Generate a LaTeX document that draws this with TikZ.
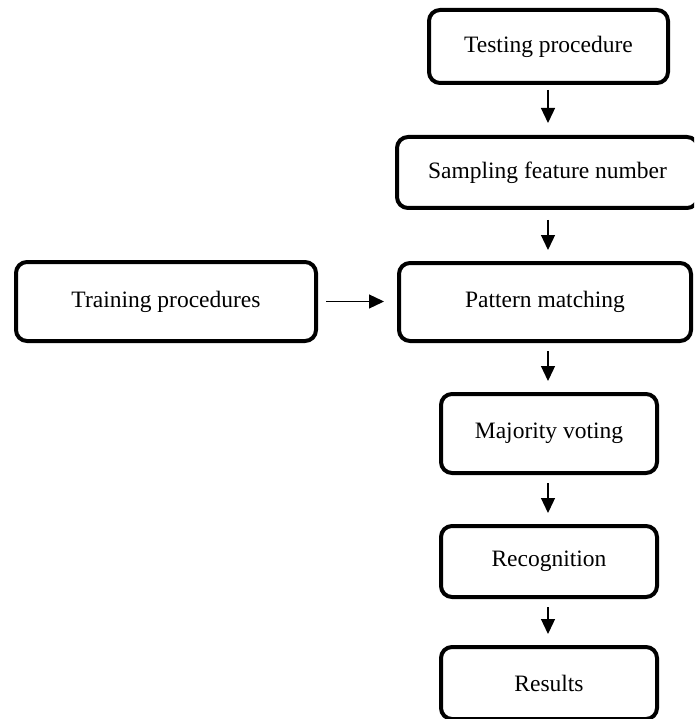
\documentclass[tikz,border=0pt]{standalone}
\usepackage{fontspec}
\setmainfont{Liberation Serif}
\usetikzlibrary{arrows.meta,calc}
\begin{document}
\begin{tikzpicture}[x=1pt,y=1pt,
  box/.style={draw=black, line width=4pt, rounded corners=11pt, fill=white,
    inner sep=0pt, font=\fontsize{23.5}{28}\selectfont},
  arr/.style={line width=1.3pt, -{Triangle[length=15pt,width=14pt]},
    shorten <=8pt, shorten >=11pt}]
\useasboundingbox (0,0) rectangle (694,-719);
\clip (0,0) rectangle (694,-719);
\fill[white] (0,0) rectangle (694,-719);
\coordinate (col) at (548,0);
\node[box, minimum width=239pt, minimum height=73pt] (test) at (548.5,-46.5) {Testing procedure};
\node[box, minimum width=301pt, minimum height=71pt] (samp) at (547.5,-172.5) {Sampling feature number};
\node[box, minimum width=300pt, minimum height=79pt] (train) at (166,-301.5) {Training procedures};
\node[box, minimum width=292pt, minimum height=78pt] (patt) at (545,-302) {Pattern matching};
\node[box, minimum width=216pt, minimum height=79pt] (maj) at (549,-433.5) {Majority voting};
\node[box, minimum width=216pt, minimum height=71pt] (rec) at (549,-561.5) {Recognition};
\node[box, minimum width=216pt, minimum height=72pt] (res) at (549,-683) {Results};
\draw[arr, shorten <=5pt, shorten >=12pt] (test.south -| col) -- (samp.north -| col);
\draw[arr, shorten <=10pt] (samp.south -| col) -- (patt.north -| col);
\draw[arr] (patt.south -| col) -- (maj.north -| col);
\draw[arr] (maj.south -| col) -- (rec.north -| col);
\draw[arr] (rec.south -| col) -- (res.north -| col);
\draw[arr, shorten >=13pt] (train.east) -- (train.east -| patt.west);
\end{tikzpicture}
\end{document}
